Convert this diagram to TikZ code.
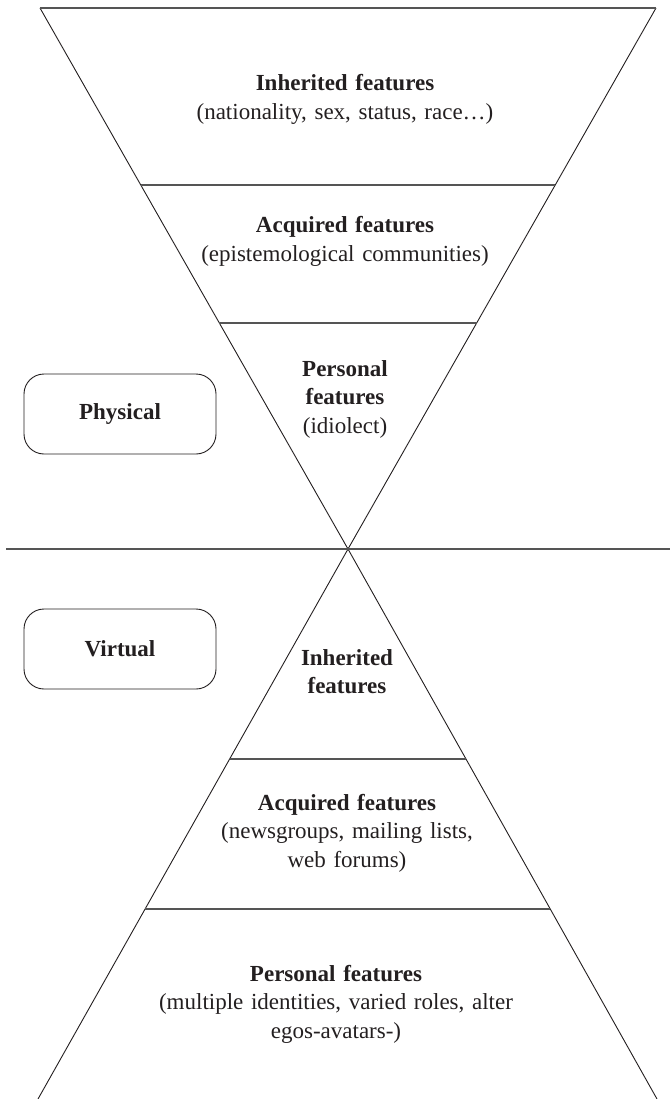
\documentclass[tikz,border=0pt]{standalone}
\usepackage{fontspec}
\setmainfont{Liberation Serif}
\usetikzlibrary{calc}
\definecolor{ink}{HTML}{231F20}
\definecolor{rung}{HTML}{555555}
\begin{document}
\begin{tikzpicture}[x=1pt,y=-1pt,
  side/.style={draw=ink,line width=0.9pt},
  rungline/.style={draw=rung,line width=1.3pt},
  lbl/.style={text=ink,inner sep=0pt,anchor=base,text width=420pt,align=center,font=\fontsize{23}{28.5}\selectfont},
  tag/.style={draw=ink,line width=0.9pt,rounded corners=20pt,minimum width=192pt,minimum height=80pt,text=ink,font=\fontsize{23}{28.5}\selectfont\bfseries,inner sep=0pt}]
\useasboundingbox (0,0) rectangle (670,1099);
% frame points
\coordinate (tl) at (40,8);
\coordinate (tr) at (656,8);
\coordinate (apex) at (348,549);
\coordinate (bl) at (38,1099);
\coordinate (br) at (657,1099);
\coordinate (hl) at (6,549);
\coordinate (hr) at (670,549);
% rung end points
\coordinate (r1l) at ($(tl)!0.3272!(apex)$);
\coordinate (r1r) at ($(tr)!0.3272!(apex)$);
\coordinate (r2l) at ($(tl)!0.5823!(apex)$);
\coordinate (r2r) at ($(tr)!0.5823!(apex)$);
\coordinate (r3l) at ($(apex)!0.3818!(bl)$);
\coordinate (r3r) at ($(apex)!0.3818!(br)$);
\coordinate (r4l) at ($(apex)!0.6545!(bl)$);
\coordinate (r4r) at ($(apex)!0.6545!(br)$);
% lines
\draw[side] (tl) -- (apex) -- (tr);
\draw[side] (bl) -- (apex) -- (br);
\draw[rungline] (tl) -- (tr);
\draw[rungline] (hl) -- (hr);
\draw[rungline] (r1l) -- (r1r);
\draw[rungline] (r2l) -- (r2r);
\draw[rungline] (r3l) -- (r3r);
\draw[rungline] (r4l) -- (r4r);
% labels, top
\node[lbl] (inhtop) at (345,91) {\textbf{Inherited features}\\(nationality, sex, status, race…)};
\node[lbl] (acqtop) at (345,233) {\textbf{Acquired features}\\(epistemological communities)};
\node[lbl] (pertop) at (345,376) {\textbf{Personal}\\\textbf{features}\\(idiolect)};
% labels, bottom
\node[lbl] (inhbot) at (347,665) {\textbf{Inherited}\\\textbf{features}};
\node[lbl] (acqbot) at (347,810) {\textbf{Acquired features}\\(newsgroups, mailing lists,\\web forums)};
\node[lbl] (perbot) at (336,981) {\textbf{Personal features}\\(multiple identities, varied roles, alter\\egos-avatars-)};
% side tags
\node[tag] (phys) at (120,414) {Physical};
\node[tag] (virt) at (120,649) {Virtual};
\end{tikzpicture}
\end{document}
